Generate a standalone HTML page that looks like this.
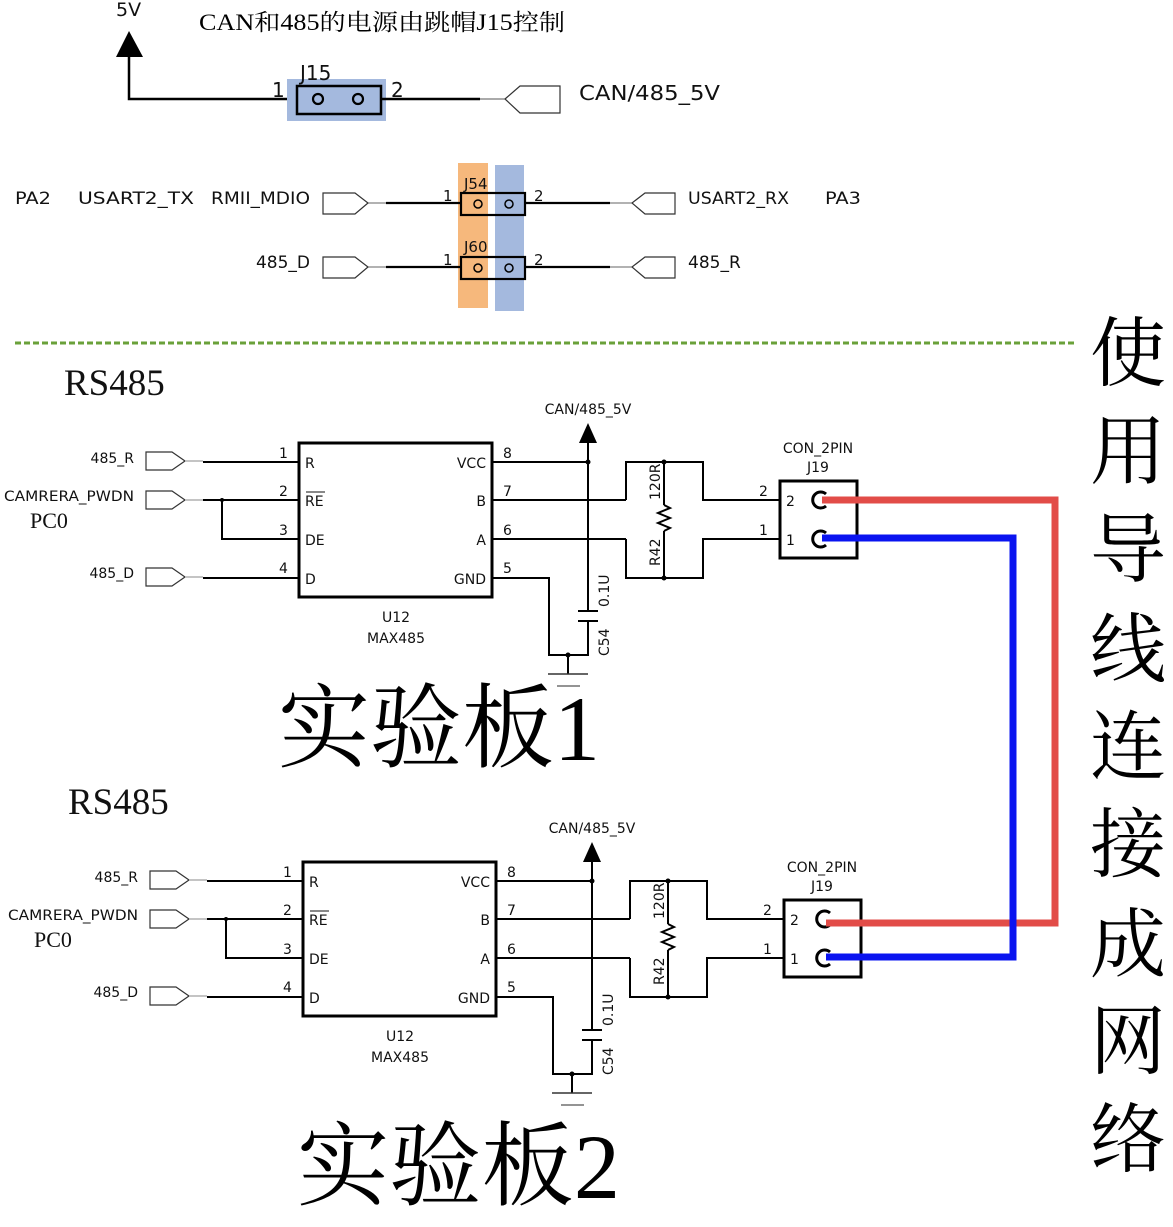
<!DOCTYPE html>
<html><head><meta charset="utf-8"><style>
html,body{margin:0;padding:0;background:#fff;}
svg{display:block;}
.s{font-family:"DejaVu Sans","Liberation Sans",sans-serif;fill:#111;}
.sf{font-family:"Liberation Serif","Noto Serif CJK SC",serif;fill:#111;}
.cj{font-family:"Liberation Serif","Noto Serif CJK SC",serif;fill:#000;}
</style></head><body>
<svg width="1173" height="1227" viewBox="0 0 1173 1227" xmlns="http://www.w3.org/2000/svg">
<defs>
<g id="ckt">
  <g fill="#fff" stroke="#333" stroke-width="1.2">
    <path d="M146,452 H172 L185,461 L172,470 H146 Z"/>
    <path d="M146,491 H172 L185,500 L172,509 H146 Z"/>
    <path d="M146,568 H172 L185,577 L172,586 H146 Z"/>
  </g>
  <g stroke="#888" stroke-width="1"><line x1="185" y1="461" x2="203" y2="461"/><line x1="185" y1="500" x2="203" y2="500"/><line x1="185" y1="577" x2="203" y2="577"/></g>
  <g stroke="#000" stroke-width="2" fill="none">
    <line x1="203" y1="462" x2="299" y2="462"/>
    <line x1="203" y1="500" x2="299" y2="500"/>
    <polyline points="222,500 222,539 299,539"/>
    <line x1="203" y1="578" x2="299" y2="578"/>
    <line x1="492" y1="462" x2="588" y2="462"/>
    <line x1="492" y1="500" x2="626" y2="500"/>
    <line x1="492" y1="539" x2="626" y2="539"/>
    <polyline points="492,578 549,578 549,655 588,655 588,621"/>
    <line x1="588" y1="443" x2="588" y2="611"/>
    <line x1="578" y1="611" x2="598" y2="611"/>
    <line x1="578" y1="621" x2="598" y2="621"/>
    <polyline points="626,500 626,462 703,462 703,500 780,500"/>
    <polyline points="626,539 626,578 703,578 703,539 780,539"/>
    <line x1="664" y1="462" x2="664" y2="505"/>
    <polyline points="664,505 670,508 658,513 670,518 658,523 670,528 664,531"/>
    <line x1="664" y1="531" x2="664" y2="578"/>
    <line x1="568" y1="655" x2="568" y2="674"/>
  </g>
  <line x1="548" y1="674" x2="588" y2="674" stroke="#333" stroke-width="1.5"/>
  <line x1="557" y1="686" x2="580" y2="686" stroke="#555" stroke-width="1.2"/>
  <circle cx="222" cy="500" r="2"/><circle cx="588" cy="462" r="2.5"/><circle cx="568" cy="655" r="2.5"/>
  <circle cx="664" cy="462" r="2.5"/><circle cx="664" cy="578" r="2.5"/>
  <path d="M579,443 L588,423 L597,443 Z" fill="#000"/>
  <rect x="299" y="443" width="193" height="154" fill="none" stroke="#000" stroke-width="3"/>
  <rect x="780" y="481" width="77" height="77" fill="none" stroke="#000" stroke-width="3"/>
  <g fill="none" stroke="#000" stroke-width="3">
    <path d="M826,494 A8,8 0 1 0 826,506"/>
    <path d="M826,533 A8,8 0 1 0 826,545"/>
  </g>
  <g class="s" font-size="14">
    <text x="134" y="463" text-anchor="end">485_R</text>
    <text x="134" y="501" text-anchor="end" textLength="130" lengthAdjust="spacingAndGlyphs">CAMRERA_PWDN</text>
    <text x="134" y="578" text-anchor="end">485_D</text>
    <text x="279" y="458">1</text><text x="279" y="496">2</text><text x="279" y="535">3</text><text x="279" y="573">4</text>
    <text x="305" y="468">R</text><text x="305" y="506">RE</text><text x="305" y="545">DE</text><text x="305" y="584">D</text>
    <text x="486" y="468" text-anchor="end">VCC</text><text x="486" y="506" text-anchor="end">B</text><text x="486" y="545" text-anchor="end">A</text><text x="486" y="584" text-anchor="end">GND</text>
    <text x="503" y="458">8</text><text x="503" y="496">7</text><text x="503" y="535">6</text><text x="503" y="573">5</text>
    <text x="396" y="622" text-anchor="middle">U12</text>
    <text x="396" y="643" text-anchor="middle">MAX485</text>
    <text x="588" y="414" text-anchor="middle">CAN/485_5V</text>
    <text x="818" y="453" text-anchor="middle">CON_2PIN</text>
    <text x="818" y="472" text-anchor="middle">J19</text>
    <text x="759" y="496">2</text><text x="759" y="535">1</text>
    <text x="786" y="506">2</text><text x="786" y="545">1</text>
    <text transform="translate(609,607) rotate(-90)">0.1U</text>
    <text transform="translate(609,656) rotate(-90)">C54</text>
    <text transform="translate(660,500) rotate(-90)">120R</text>
    <text transform="translate(660,566) rotate(-90)">R42</text>
  </g>
  <line x1="306" y1="492" x2="325" y2="492" stroke="#111" stroke-width="1"/>
  <text class="sf" x="30" y="528" font-size="22">PC0</text>
  <text class="sf" x="64" y="395" font-size="37">RS485</text>
</g>
</defs>

<text class="s" x="116" y="16" font-size="19">5V</text>
<path d="M116,57 L129,31 L143,57 Z" fill="#000"/>
<text class="cj" x="199" y="30" font-size="23" textLength="366" lengthAdjust="spacingAndGlyphs">CAN和485的电源由跳帽J15控制</text>
<polyline points="129,57 129,99 290,99" fill="none" stroke="#000" stroke-width="2.5"/>
<rect x="287" y="79" width="99" height="42" fill="#a4b9de"/>
<rect x="297" y="86" width="84" height="28" fill="none" stroke="#000" stroke-width="2.5"/>
<circle cx="318" cy="99" r="5" fill="none" stroke="#000" stroke-width="2.2"/>
<circle cx="358" cy="99" r="5" fill="none" stroke="#000" stroke-width="2.2"/>
<line x1="381" y1="99" x2="480" y2="99" stroke="#000" stroke-width="2.5"/>
<line x1="480" y1="99" x2="505" y2="99" stroke="#555" stroke-width="1"/>
<path d="M505,99 L520,86 H560 V113 H520 Z" fill="#fff" stroke="#333" stroke-width="1.2"/>
<g class="s" font-size="20">
<text x="272" y="97">1</text><text x="391" y="97">2</text><text x="300" y="80">J15</text>
<text x="579" y="100" textLength="141" lengthAdjust="spacingAndGlyphs">CAN/485_5V</text>
</g>

<rect x="458" y="163" width="30" height="145" fill="#f6b87c"/>
<rect x="495" y="165" width="29" height="146" fill="#a4b9de"/>
<g stroke="#000" stroke-width="2.2" fill="none">
<rect x="461" y="193" width="64" height="22"/><rect x="461" y="257" width="64" height="22"/>
<line x1="386" y1="203" x2="461" y2="203"/><line x1="525" y1="203" x2="610" y2="203"/>
<line x1="386" y1="267" x2="461" y2="267"/><line x1="525" y1="267" x2="610" y2="267"/>
</g>
<g fill="none" stroke="#000" stroke-width="1.5">
<circle cx="478" cy="204" r="4"/><circle cx="509" cy="204" r="4"/>
<circle cx="478" cy="268" r="4"/><circle cx="509" cy="268" r="4"/>
</g>
<g stroke="#666" stroke-width="1"><line x1="368" y1="203" x2="386" y2="203"/><line x1="368" y1="267" x2="386" y2="267"/><line x1="610" y1="203" x2="632" y2="203"/><line x1="610" y1="267" x2="632" y2="267"/></g>
<g fill="#fff" stroke="#333" stroke-width="1.2">
<path d="M323,193 H355 L368,203 L355,214 H323 Z"/>
<path d="M323,257 H355 L368,267 L355,278 H323 Z"/>
<path d="M632,203 L645,193 H675 V214 H645 Z"/>
<path d="M632,267 L645,257 H675 V278 H645 Z"/>
</g>
<g class="s" font-size="17">
<text x="15" y="204" textLength="36" lengthAdjust="spacingAndGlyphs">PA2</text>
<text x="78" y="204" textLength="116" lengthAdjust="spacingAndGlyphs">USART2_TX</text>
<text x="211" y="204" textLength="99" lengthAdjust="spacingAndGlyphs">RMII_MDIO</text>
<text x="688" y="204" textLength="101" lengthAdjust="spacingAndGlyphs">USART2_RX</text>
<text x="825" y="204" textLength="36" lengthAdjust="spacingAndGlyphs">PA3</text>
<text x="310" y="268" text-anchor="end">485_D</text><text x="688" y="268">485_R</text>
</g>
<g class="s" font-size="15">
<text x="443" y="201">1</text><text x="534" y="201">2</text><text x="464" y="189">J54</text>
<text x="443" y="265">1</text><text x="534" y="265">2</text><text x="464" y="252">J60</text>
</g>

<line x1="15" y1="343" x2="1075" y2="343" stroke="#6aa13a" stroke-width="3" stroke-dasharray="6,3"/>

<use href="#ckt"/>
<use href="#ckt" transform="translate(4,419)"/>

<polyline points="822,500 1055,500 1055,923 826,923" fill="none" stroke="#e24c48" stroke-width="7"/>
<polyline points="822,538 1013,538 1013,957 826,957" fill="none" stroke="#0a14f0" stroke-width="7"/>

<text class="cj" x="278" y="760" font-size="92" textLength="322" lengthAdjust="spacingAndGlyphs">实验板1</text>
<text class="cj" x="297" y="1198" font-size="92" textLength="323" lengthAdjust="spacingAndGlyphs">实验板2</text>

<g class="cj" font-size="76" text-anchor="middle">
<text x="1128" y="380">使</text><text x="1128" y="478">用</text><text x="1128" y="576">导</text>
<text x="1128" y="676">线</text><text x="1128" y="773">连</text><text x="1128" y="871">接</text>
<text x="1128" y="971">成</text><text x="1128" y="1068">网</text><text x="1128" y="1166">络</text>
</g>
</svg>
</body></html>
